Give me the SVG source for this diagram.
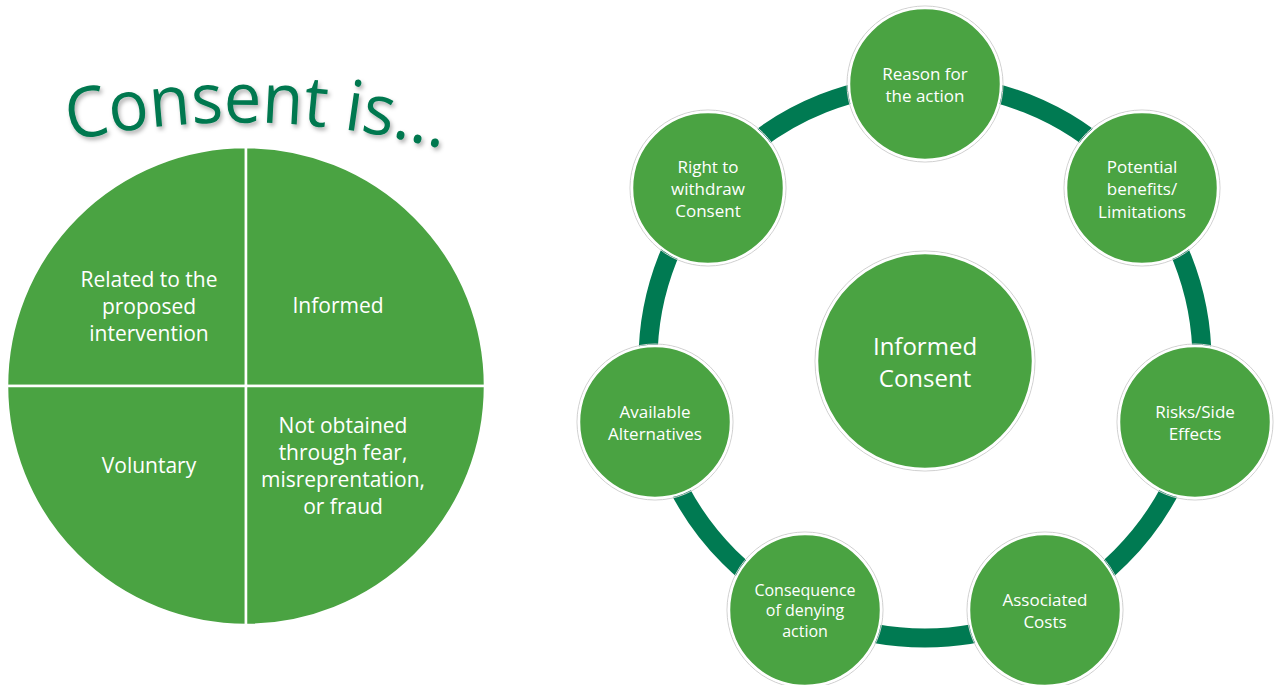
<svg xmlns="http://www.w3.org/2000/svg" width="1274" height="685" viewBox="0 0 1274 685">
<style>
.q{fill:#4aa342;stroke:#fff;stroke-width:2.5}
.n{fill:#4aa342;stroke:#fff;stroke-width:2.5}
.o{fill:none;stroke:#d0d0d0;stroke-width:1}
.t{font-family:"Open Sans","Noto Sans",sans-serif;fill:#fff;text-anchor:middle;dominant-baseline:central}
.pt{font-size:21px}
.nt{font-size:17px}
.ring{fill:none;stroke:#007a52;stroke-width:19}
</style>
<defs>
<filter id="sh" x="-10%" y="-20%" width="130%" height="150%">
<feDropShadow dx="2" dy="3" stdDeviation="2" flood-color="#000" flood-opacity="0.3"/>
</filter>
<path id="arc" d="M 70 141 Q 258 100 448 150"/>
</defs>
<rect width="1274" height="685" fill="#fff"/>

<g id="title">
<text font-family="'Open Sans','Noto Sans',sans-serif" font-size="70" fill="#00784f" filter="url(#sh)"><textPath href="#arc" textLength="376" lengthAdjust="spacingAndGlyphs">Consent is...</textPath></text>
</g>

<g id="pie">
<circle cx="246" cy="386" r="239" fill="none" stroke="#d8d8d8" stroke-width="1"/>
<g id="q-related">
<path class="q" d="M246 386 L7 386 A239 239 0 0 1 246 147 Z"/>
<text class="t pt" x="149" y="279">Related to the</text>
<text class="t pt" x="149" y="306">proposed</text>
<text class="t pt" x="149" y="333">intervention</text>
</g>
<g id="q-informed">
<path class="q" d="M246 386 L246 147 A239 239 0 0 1 485 386 Z"/>
<text class="t pt" x="338" y="305">Informed</text>
</g>
<g id="q-voluntary">
<path class="q" d="M246 386 L246 625 A239 239 0 0 1 7 386 Z"/>
<text class="t pt" x="149" y="465">Voluntary</text>
</g>
<g id="q-notobtained">
<path class="q" d="M246 386 L485 386 A239 239 0 0 1 246 625 Z"/>
<text class="t pt" x="343" y="425">Not obtained</text>
<text class="t pt" x="343" y="452">through fear,</text>
<text class="t pt" x="343" y="479">misreprentation,</text>
<text class="t pt" x="343" y="506">or fraud</text>
</g>
</g>

<g id="connectors">
<circle class="ring" cx="925" cy="361" r="277"/>
</g>

<g id="center">
<circle class="o" cx="925" cy="361" r="110"/>
<circle class="n" cx="925" cy="361" r="108"/>
<text class="t" font-size="24" x="925" y="345">Informed</text>
<text class="t" font-size="24" x="925" y="377">Consent</text>
</g>

<g id="n-reason">
<circle class="o" cx="925" cy="84" r="78"/>
<circle class="n" cx="925" cy="84" r="76"/>
<text class="t nt" x="925" y="73">Reason for</text>
<text class="t nt" x="925" y="95">the action</text>
</g>
<g id="n-benefits">
<circle class="o" cx="1142" cy="188" r="78"/>
<circle class="n" cx="1142" cy="188" r="76"/>
<text class="t nt" x="1142" y="166">Potential</text>
<text class="t nt" x="1142" y="188">benefits/</text>
<text class="t nt" x="1142" y="211">Limitations</text>
</g>
<g id="n-risks">
<circle class="o" cx="1195" cy="422" r="78"/>
<circle class="n" cx="1195" cy="422" r="76"/>
<text class="t nt" x="1195" y="411">Risks/Side</text>
<text class="t nt" x="1195" y="433">Effects</text>
</g>
<g id="n-costs">
<circle class="o" cx="1045" cy="610" r="78"/>
<circle class="n" cx="1045" cy="610" r="76"/>
<text class="t nt" x="1045" y="599">Associated</text>
<text class="t nt" x="1045" y="621">Costs</text>
</g>
<g id="n-consequence">
<circle class="o" cx="805" cy="610" r="78"/>
<circle class="n" cx="805" cy="610" r="76"/>
<text class="t" font-size="16" x="805" y="590">Consequence</text>
<text class="t" font-size="16" x="805" y="610">of denying</text>
<text class="t" font-size="16" x="805" y="631">action</text>
</g>
<g id="n-alternatives">
<circle class="o" cx="655" cy="422" r="78"/>
<circle class="n" cx="655" cy="422" r="76"/>
<text class="t nt" x="655" y="411">Available</text>
<text class="t nt" x="655" y="433">Alternatives</text>
</g>
<g id="n-withdraw">
<circle class="o" cx="708" cy="188" r="78"/>
<circle class="n" cx="708" cy="188" r="76"/>
<text class="t nt" x="708" y="166">Right to</text>
<text class="t nt" x="708" y="188">withdraw</text>
<text class="t nt" x="708" y="210">Consent</text>
</g>
</svg>
